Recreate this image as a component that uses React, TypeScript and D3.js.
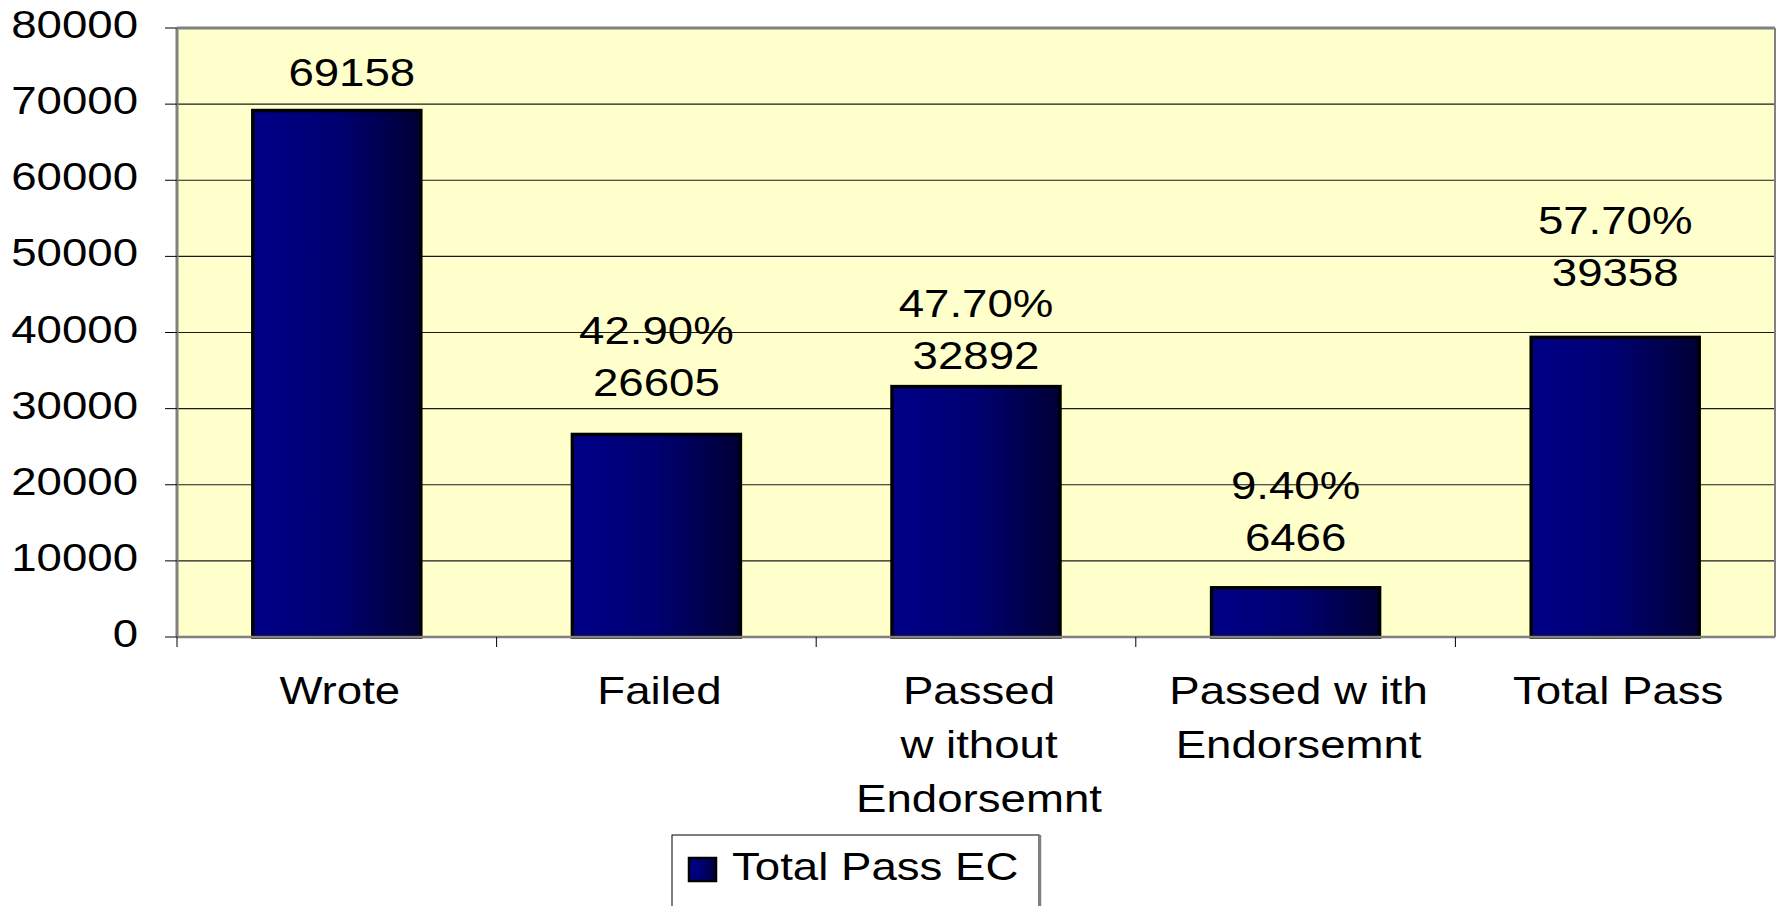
import React from "react";
import * as d3 from "d3";

const categories: string[][] = [
  ["Wrote"],
  ["Failed"],
  ["Passed", "w ithout", "Endorsemnt"],
  ["Passed w ith", "Endorsemnt"],
  ["Total Pass"],
];
const values: number[] = [69158, 26605, 32892, 6466, 39358];
const percentLabels: string[] = ["", "42.90%", "47.70%", "9.40%", "57.70%"];
const yTickValues: number[] = [0, 10000, 20000, 30000, 40000, 50000, 60000, 70000, 80000];
const seriesName = "Total Pass EC";

// styling / layout (not data)
const W = 1776;
const H = 906;
const M = { left: 177, top: 28, right: 1775, bottom: 637 };
const SX = 1.2; // horizontal stretch of the glyphs
const FONT = "'Liberation Sans', Arial, sans-serif";
const FS = 38;
const labelGap = [25, 38, 18, 37, 51];
const labelDx = [15, 0, 0, 0, 0];
const LINE = 52;

function T(props: {
  x: number;
  y: number;
  anchor?: string;
  size?: number;
  children: React.ReactNode;
}) {
  const { x, y, anchor = "middle", size = FS, children } = props;
  return (
    <text
      transform={`translate(${x},${y}) scale(${SX},1)`}
      textAnchor={anchor as any}
      fontSize={size}
      fontFamily={FONT}
      fill="#000"
    >
      {children}
    </text>
  );
}

export default function App() {
  const x = d3
    .scaleBand<number>()
    .domain(values.map((_, i) => i))
    .range([M.left, M.right])
    .paddingInner(0.465)
    .paddingOuter(0.2325);
  const y = d3.scaleLinear().domain([0, 80000]).range([M.bottom, M.top]);
  const step = x.step();

  return (
    <svg
      width={W}
      height={H}
      style={{ position: "absolute", left: 0, top: 0, display: "block", background: "#fff" }}
    >
      <defs>
        <linearGradient id="barGrad" x1="0" x2="1" y1="0" y2="0">
          <stop offset="0%" stopColor="#000088" />
          <stop offset="50%" stopColor="#000070" />
          <stop offset="100%" stopColor="#000036" />
        </linearGradient>
      </defs>

      {/* plot background */}
      <rect
        x={M.left}
        y={M.top}
        width={M.right - M.left}
        height={M.bottom - M.top}
        fill="#FFFFCC"
      />

      {/* gridlines */}
      {yTickValues
        .filter((v) => v > 0 && v < 80000)
        .map((v) => (
          <line
            key={"g" + v}
            x1={M.left}
            x2={M.right}
            y1={y(v)}
            y2={y(v)}
            stroke="#1a1a1a"
            strokeWidth={1.2}
          />
        ))}

      {/* plot border */}
      <line x1={M.left} x2={M.right} y1={M.top} y2={M.top} stroke="#808080" strokeWidth={3} />
      <line x1={M.right} x2={M.right} y1={M.top} y2={M.bottom} stroke="#808080" strokeWidth={2} />
      <line x1={M.left} x2={M.left} y1={M.top} y2={M.bottom} stroke="#808080" strokeWidth={3} />

      {/* bars */}
      {values.map((v, i) => (
        <rect
          key={"b" + i}
          x={(x(i) as number) + 1.5}
          y={y(v)}
          width={x.bandwidth() - 3}
          height={y(0) - y(v)}
          fill="url(#barGrad)"
          stroke="#000"
          strokeWidth={3.5}
        />
      ))}

      {/* x axis line and ticks */}
      <line x1={M.left} x2={M.right} y1={M.bottom} y2={M.bottom} stroke="#808080" strokeWidth={2.5} />
      {d3.range(values.length).map((i) => (
        <line
          key={"xt" + i}
          x1={M.left + i * step}
          x2={M.left + i * step}
          y1={M.bottom}
          y2={M.bottom + 10}
          stroke="#000"
          strokeWidth={1}
        />
      ))}

      {/* y ticks and labels */}
      {yTickValues.map((v) => (
        <g key={"yt" + v}>
          <line x1={M.left - 12} x2={M.left} y1={y(v)} y2={y(v)} stroke="#000" strokeWidth={1} />
          <T x={138} y={y(v) + 10} anchor="end">
            {String(v)}
          </T>
        </g>
      ))}

      {/* value labels */}
      {values.map((v, i) => {
        const cx = (x(i) as number) + x.bandwidth() / 2 + labelDx[i];
        const base = y(v) - labelGap[i];
        const lines = percentLabels[i] ? [percentLabels[i], String(v)] : [String(v)];
        return (
          <g key={"vl" + i}>
            {lines.map((t, k) => (
              <T key={k} x={cx} y={base - (lines.length - 1 - k) * LINE}>
                {t}
              </T>
            ))}
          </g>
        );
      })}

      {/* category labels */}
      {categories.map((lines, i) => {
        const cx = (x(i) as number) + x.bandwidth() / 2 + 3;
        return (
          <g key={"cl" + i}>
            {lines.map((t, k) => (
              <T key={k} x={cx} y={704 + k * 54}>
                {t}
              </T>
            ))}
          </g>
        );
      })}

      {/* legend */}
      <rect x={672} y={835} width={367} height={100} fill="#fff" stroke="#000" strokeWidth={1} />
      <line x1={1040} x2={1040} y1={835} y2={906} stroke="#808080" strokeWidth={2.5} />
      <rect x={689} y={858} width={27} height={23} fill="url(#barGrad)" stroke="#000" strokeWidth={2.5} />
      <T x={732} y={880} anchor="start" size={38}>
        {seriesName}
      </T>
    </svg>
  );
}
